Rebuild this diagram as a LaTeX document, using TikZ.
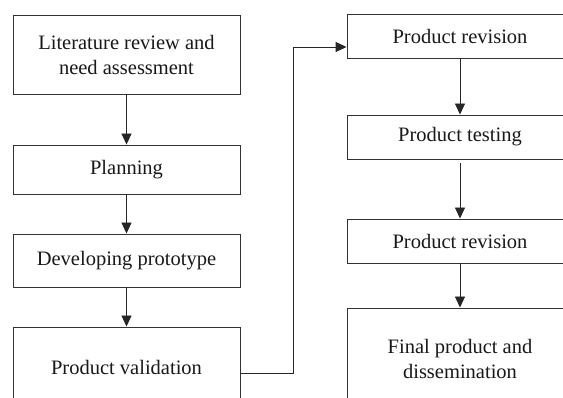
\documentclass[tikz,border=0pt]{standalone}
\usepackage{fontspec}
\setmainfont{Liberation Serif}
\usetikzlibrary{arrows.meta}
\begin{document}
\begin{tikzpicture}[x=1pt,y=-1pt,
  box/.style={draw=black!80,line width=0.9pt,rectangle,inner sep=0pt,align=center,
    font=\fontsize{20.5}{25}\selectfont,text=black!90},
  arr/.style={draw=black!85,line width=0.9pt,-{Triangle[length=11pt,width=10pt]}}]
\useasboundingbox (0,0) rectangle (563,398);
\clip (0,0) rectangle (563,398);
\fill[white] (0,0) rectangle (563,398);
% left column
\node[box,minimum width=227pt,minimum height=79pt] (l1) at (126.5,54.5) {Literature review and\\need assessment};
\node[box,minimum width=227pt,minimum height=49pt] (l2) at (126.5,169.5) {Planning};
\node[box,minimum width=227pt,minimum height=53pt] (l3) at (126.5,260.5) {Developing prototype};
\node[box,minimum width=227pt,minimum height=80pt] (l4) at (126.5,367) {Product validation};
% right column
\node[box,minimum width=226pt,minimum height=44pt] (r1) at (460,36) {Product revision};
\node[box,minimum width=226pt,minimum height=44pt] (r2) at (460,137) {Product testing};
\node[box,minimum width=226pt,minimum height=44pt] (r3) at (460,241) {Product revision};
\node[box,minimum width=226pt,minimum height=102pt] (r4) at (460,359) {Final product and\\dissemination};
% connectors
\draw[arr] (l1) -- (l2);
\draw[arr] (l2) -- (l3);
\draw[arr] (l3) -- (l4);
\draw[arr] (r1) -- (r2);
\draw[arr,shorten <=4pt] (r2) -- (r3);
\draw[arr] (r3) -- (r4);
\coordinate (k1) at (293,373);
\coordinate (k2) at (293,47);
\draw[arr] (k1 -| l4.east) -- (k1) -- (k2) -- (k2 -| r1.west);
\end{tikzpicture}
\end{document}
